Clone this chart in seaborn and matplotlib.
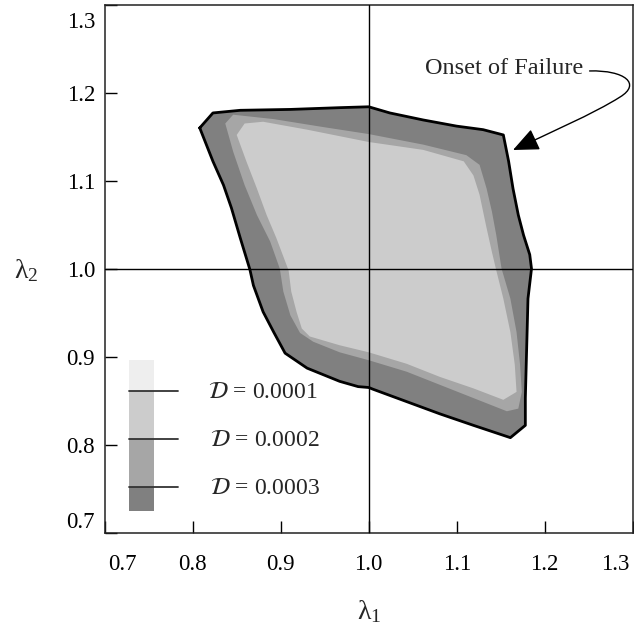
import numpy as np
import pandas as pd
import matplotlib
matplotlib.use("Agg")
import matplotlib.pyplot as plt
import matplotlib.transforms as mtransforms
from matplotlib.path import Path
from matplotlib.patches import FancyArrowPatch
import seaborn as sns

# ---- data ----
# Onset of failure boundary (outer contour)
outer_l1 = [0.808, 0.823, 0.854, 0.911, 0.967, 1.000, 1.024, 1.062, 1.100, 1.130, 1.153,
            1.159, 1.164, 1.170, 1.176, 1.183, 1.185, 1.181, 1.180, 1.179, 1.178, 1.178,
            1.161, 1.119, 1.081, 1.043, 1.005, 1.000, 0.988, 0.967, 0.930, 0.905, 0.892,
            0.880, 0.869, 0.865, 0.854, 0.844, 0.835, 0.823]
outer_l2 = [1.160, 1.177, 1.180, 1.181, 1.183, 1.184, 1.177, 1.169, 1.162, 1.158, 1.152,
            1.122, 1.091, 1.061, 1.038, 1.016, 1.000, 0.966, 0.928, 0.891, 0.853, 0.822,
            0.808, 0.822, 0.835, 0.849, 0.863, 0.865, 0.866, 0.872, 0.887, 0.904, 0.928,
            0.951, 0.981, 0.999, 1.035, 1.069, 1.095, 1.122]

# D = 0.0003 contour
mid_l1 = [0.837, 0.846, 0.892, 0.948, 1.000, 1.062, 1.111, 1.126, 1.134, 1.140, 1.145,
          1.151, 1.161, 1.168, 1.172, 1.174, 1.170, 1.157, 1.119, 1.081, 1.043, 1.000,
          0.967, 0.937, 0.922, 0.911, 0.903, 0.899, 0.888, 0.873, 0.859, 0.846]
mid_l2 = [1.165, 1.175, 1.170, 1.161, 1.153, 1.141, 1.129, 1.118, 1.091, 1.065, 1.038,
          1.000, 0.966, 0.928, 0.891, 0.860, 0.841, 0.838, 0.853, 0.868, 0.883, 0.896,
          0.905, 0.917, 0.927, 0.947, 0.974, 1.000, 1.031, 1.061, 1.095, 1.133]

# D = 0.0002 contour
inner_l1 = [0.850, 0.859, 0.880, 0.930, 1.000, 1.062, 1.108, 1.119, 1.126, 1.134, 1.140,
            1.145, 1.153, 1.161, 1.166, 1.168, 1.153, 1.119, 1.081, 1.043, 1.000, 0.967,
            0.933, 0.924, 0.918, 0.912, 0.909, 0.895, 0.884, 0.873, 0.861]
inner_l2 = [1.152, 1.165, 1.167, 1.158, 1.144, 1.135, 1.122, 1.106, 1.084, 1.046, 1.019,
            0.998, 0.966, 0.928, 0.891, 0.860, 0.851, 0.864, 0.877, 0.892, 0.905, 0.913,
            0.923, 0.932, 0.951, 0.974, 0.998, 1.035, 1.061, 1.091, 1.122]

# legend swatch (damage level scale)
legend_bounds = [0.8962, 0.861, 0.8065, 0.752, 0.7246]
legend_colors = ["#eeeeee", "#cccccc", "#a6a6a6", "#808080"]
legend_levels = ["0.0001", "0.0002", "0.0003"]

xticks = [0.7, 0.8, 0.9, 1.0, 1.1, 1.2, 1.3]
yticks = [0.7, 0.8, 0.9, 1.0, 1.1, 1.2, 1.3]

# ---- styling ----
sns.set_theme(style="ticks")
plt.rcParams["font.family"] = ["Liberation Serif", "DejaVu Serif"]
plt.rcParams["mathtext.fontset"] = "custom"
plt.rcParams["mathtext.rm"] = "Liberation Serif"
plt.rcParams["mathtext.it"] = "Liberation Serif:italic"

fig = plt.figure(figsize=(6.34, 6.26), dpi=100)
ax = fig.add_axes([104.7 / 634, 1 - 532.7 / 626, 528 / 634, 528 / 626])

# filled contour bands
ax.fill(outer_l1, outer_l2, color="#808080", lw=0, zorder=1)
ax.fill(mid_l1, mid_l2, color="#a6a6a6", lw=0, zorder=2)
ax.fill(inner_l1, inner_l2, color="#cccccc", lw=0, zorder=3)

# onset-of-failure outline
outline = pd.DataFrame({"l1": outer_l1 + outer_l1[:1], "l2": outer_l2 + outer_l2[:1],
                        "idx": np.arange(len(outer_l1) + 1)})
sns.lineplot(data=outline, x="l1", y="l2", sort=False, estimator=None, color="black",
             lw=2.0, ax=ax, zorder=4)

# cross-hair
ax.axvline(1.0, color="black", lw=1.0, zorder=5)
ax.axhline(1.0, color="black", lw=1.0, zorder=5)

# legend swatch
for i, c in enumerate(legend_colors):
    top, bot = legend_bounds[i], legend_bounds[i + 1]
    ax.bar(0.742, top - bot, bottom=bot, width=0.028, color=c, lw=0, zorder=2)
for i, lev in enumerate(legend_levels):
    yv = legend_bounds[i + 1]
    ax.plot([0.728, 0.7833], [yv, yv], color="#333333", lw=1.3, zorder=3)
    ax.text(0.8174 if i == 0 else 0.8197, yv - 0.002, r"$\mathcal{D}$ = " + lev,
            fontsize=17, ha="left", va="center", math_fontfamily="stix", zorder=3)

# annotation
ax.text(1.064, 1.227, "Onset of Failure", fontsize=17.5, ha="left", va="center")
verts = [(1.2510, 1.2247), (1.2913, 1.2258), (1.3100, 1.2099), (1.2856, 1.1951),
         (1.2572, 1.1769), (1.2004, 1.1519), (1.1640, 1.1349)]
codes = [Path.MOVETO, Path.CURVE4, Path.CURVE4, Path.CURVE4,
         Path.CURVE4, Path.CURVE4, Path.CURVE4]
arrow = FancyArrowPatch(path=Path(verts, codes), arrowstyle="-|>,head_length=16,head_width=7",
                        color="black", lw=1.0, clip_on=False, zorder=6,
                        shrinkA=0, shrinkB=0)
ax.add_patch(arrow)

# axes
ax.set_xlim(0.7, 1.3)
ax.set_ylim(0.7, 1.3)
ax.set_xticks(xticks)
ax.set_yticks(yticks)
ax.set_xticklabels([f"{v:.1f}" for v in xticks])
ax.set_yticklabels([f"{v:.1f}" for v in yticks])
ax.tick_params(axis="both", direction="in", length=8.5, width=1.0, color="black",
               labelsize=16.5, labelcolor="black")
ax.tick_params(axis="x", pad=15)
ax.tick_params(axis="y", pad=7)
for s in ax.spines.values():
    s.set_color("#222222")
    s.set_linewidth(1.1)

# shift edge labels inward
xl = ax.get_xticklabels()
yl = ax.get_yticklabels()
def shift(lbl, dx, dy):
    lbl.set_transform(lbl.get_transform() +
                      mtransforms.ScaledTranslation(dx / 100, dy / 100, fig.dpi_scale_trans))
shift(xl[0], 18, 0)
shift(xl[-1], -17, 0)
shift(yl[0], 0, 13)
shift(yl[-1], 0, -15)

ax.set_xlabel(r"$\mathrm{λ}_1$", fontsize=20, va="center")
ax.xaxis.set_label_coords(0.5, -0.150)
ax.set_ylabel(r"$\mathrm{λ}_2$", fontsize=20, rotation=0, ha="center", va="center")
ax.yaxis.set_label_coords(-0.149, 0.496)

fig.savefig("out.png", dpi=100)
